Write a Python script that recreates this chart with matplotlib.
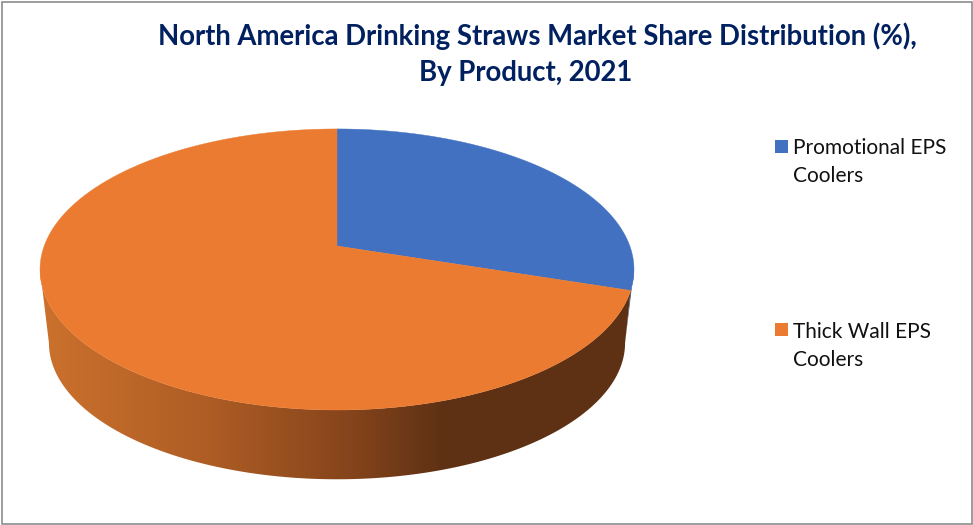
import numpy as np
import matplotlib
matplotlib.use("Agg")
import matplotlib.pyplot as plt
from matplotlib.colors import LinearSegmentedColormap
from matplotlib.patches import Polygon, Rectangle

categories = ["Promotional EPS\nCoolers", "Thick Wall EPS\nCoolers"]
shares = [30, 70]
top_colors = ["#4271C1", "#EB7B30"]
title_lines = ["North America Drinking Straws Market Share Distribution (%),", "By Product, 2021"]

W, H = 973, 525
fig = plt.figure(figsize=(W / 100, H / 100), dpi=100, facecolor="white")
ax = fig.add_axes([0, 0, 1, 1])

# projection of the pie disc (perspective view)
CX, CY, A, B, K = 337.0, 246.0, 292.8, 136.6, 0.167


def top_rim(t):
    u, v = np.sin(t), np.cos(t)
    w = 1 + K * v
    return CX + A * u / w, CY - B * v / w


def bottom_rim(t):
    x, y = top_rim(t)
    return CX + 0.97 * (x - CX), 343 + 0.97 * (y - 269.5)


edges = np.concatenate([[0], np.cumsum(shares)]) / np.sum(shares) * 2 * np.pi
right_extreme = np.arccos(-K)         # where the rim turns on the right
left_extreme = 2 * np.pi - right_extreme  # where the rim turns on the left


def wall_polygon(top_from, bottom_from, to_top, to_bottom):
    ta = np.linspace(top_from, to_top, 600)
    tb = np.linspace(bottom_from, to_bottom, 600)
    xa, ya = top_rim(ta)
    xb, yb = bottom_rim(tb)
    return np.c_[np.r_[xa, xb[::-1]], np.r_[ya, yb[::-1]]]


# side wall of the large slice: a horizontal gradient clipped to the wall
side_cmap = LinearSegmentedColormap.from_list(
    "side",
    [(0.0, "#CC712D"), (0.40, "#AE5D25"), (0.74, "#85441B"), (0.96, "#5E3114"), (1.0, "#5E3114")],
)
gradient = np.clip((np.arange(W) - 40) / 420, 0, 1)[None, :]
img = ax.imshow(gradient, cmap=side_cmap, vmin=0, vmax=1, extent=(0, W, H, 0), aspect="auto", zorder=2)
wall = Polygon(wall_polygon(edges[1], right_extreme, left_extreme, left_extreme), closed=True,
               transform=ax.transData, fc="none", ec="none")
ax.add_patch(wall)
img.set_clip_path(wall)

# side wall of the small slice (a thin sliver at the right)
ax.add_patch(Polygon(wall_polygon(right_extreme, right_extreme, edges[1], right_extreme), closed=True,
                     fc="#1F3864", ec="none", zorder=1.5))

# top surface
for i in range(len(shares)):
    ts = np.linspace(edges[i], edges[i + 1], 400)
    xa, ya = top_rim(ts)
    ax.fill(np.r_[CX, xa], np.r_[CY, ya], color=top_colors[i], lw=0.3, zorder=3)

# title
ax.text(537, 36.5, title_lines[0], ha="center", va="center", family="Lato", weight="bold", fontsize=19.8, color="#002060")
ax.text(526, 72.5, title_lines[1], ha="center", va="center", family="Lato", weight="bold", fontsize=19.8, color="#002060")

# legend
for y, y_text, label, colour in zip([146.5, 329.5], [147.5, 331.5], categories, top_colors):
    ax.add_patch(Rectangle((775, y - 6.5), 13, 13, color=colour, lw=0))
    for k, line in enumerate(label.split("\n")):
        ax.text(793, y_text + 28 * k, line, ha="left", va="center", family="Lato", fontsize=15, color="#111111")

ax.set_xlim(0, W)
ax.set_ylim(H, 0)
ax.axis("off")

# chart border
fig.add_artist(Rectangle((2 / W, 1 / H), 969.5 / W, 522.5 / H, transform=fig.transFigure, fill=False, ec="#8C8C8C", lw=1.2))

fig.savefig("out.png", dpi=100)
